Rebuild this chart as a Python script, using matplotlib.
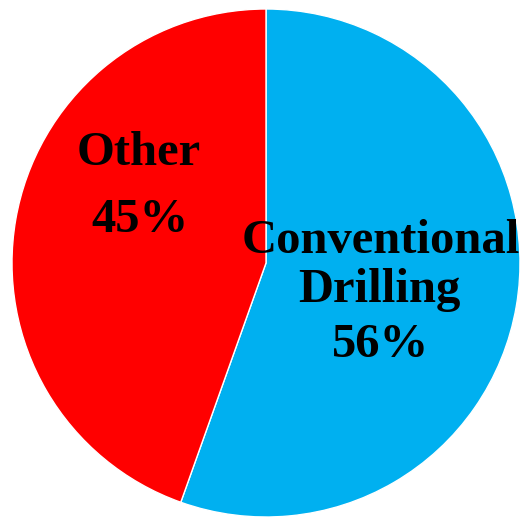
import matplotlib
matplotlib.use("Agg")
from matplotlib import pyplot as plt

labels = ["Conventional\nDrilling", "Other"]
values = [56, 45]
colors = ["#00B0F0", "#FF0000"]

# baseline anchor of each text line inside its wedge (data units, pie radius = 1)
line_pos = [
    [(0.453, 0.039), (0.447, -0.154), (0.449, -0.370)],
    [(-0.500, 0.386), (-0.498, 0.122)],
]

fig = plt.figure(figsize=(5.22, 5.19), dpi=100)
ax = fig.add_axes([12 / 522, 2 / 519, 508 / 522, 508 / 519])

wedges, _ = ax.pie(values, colors=colors, startangle=90, counterclock=False,
                   radius=1.0, wedgeprops={"linewidth": 1, "edgecolor": "white"})
ax.set_xlim(-1, 1)
ax.set_ylim(-1, 1)
ax.set_aspect("equal")

for lab, val, positions in zip(labels, values, line_pos):
    lines = lab.split("\n") + [f"{val}%"]
    for text, (x, y) in zip(lines, positions):
        ax.text(x, y, text, ha="center", va="baseline",
                fontsize=35, fontweight="bold", family="Liberation Serif")

fig.savefig("out.png", dpi=100)
